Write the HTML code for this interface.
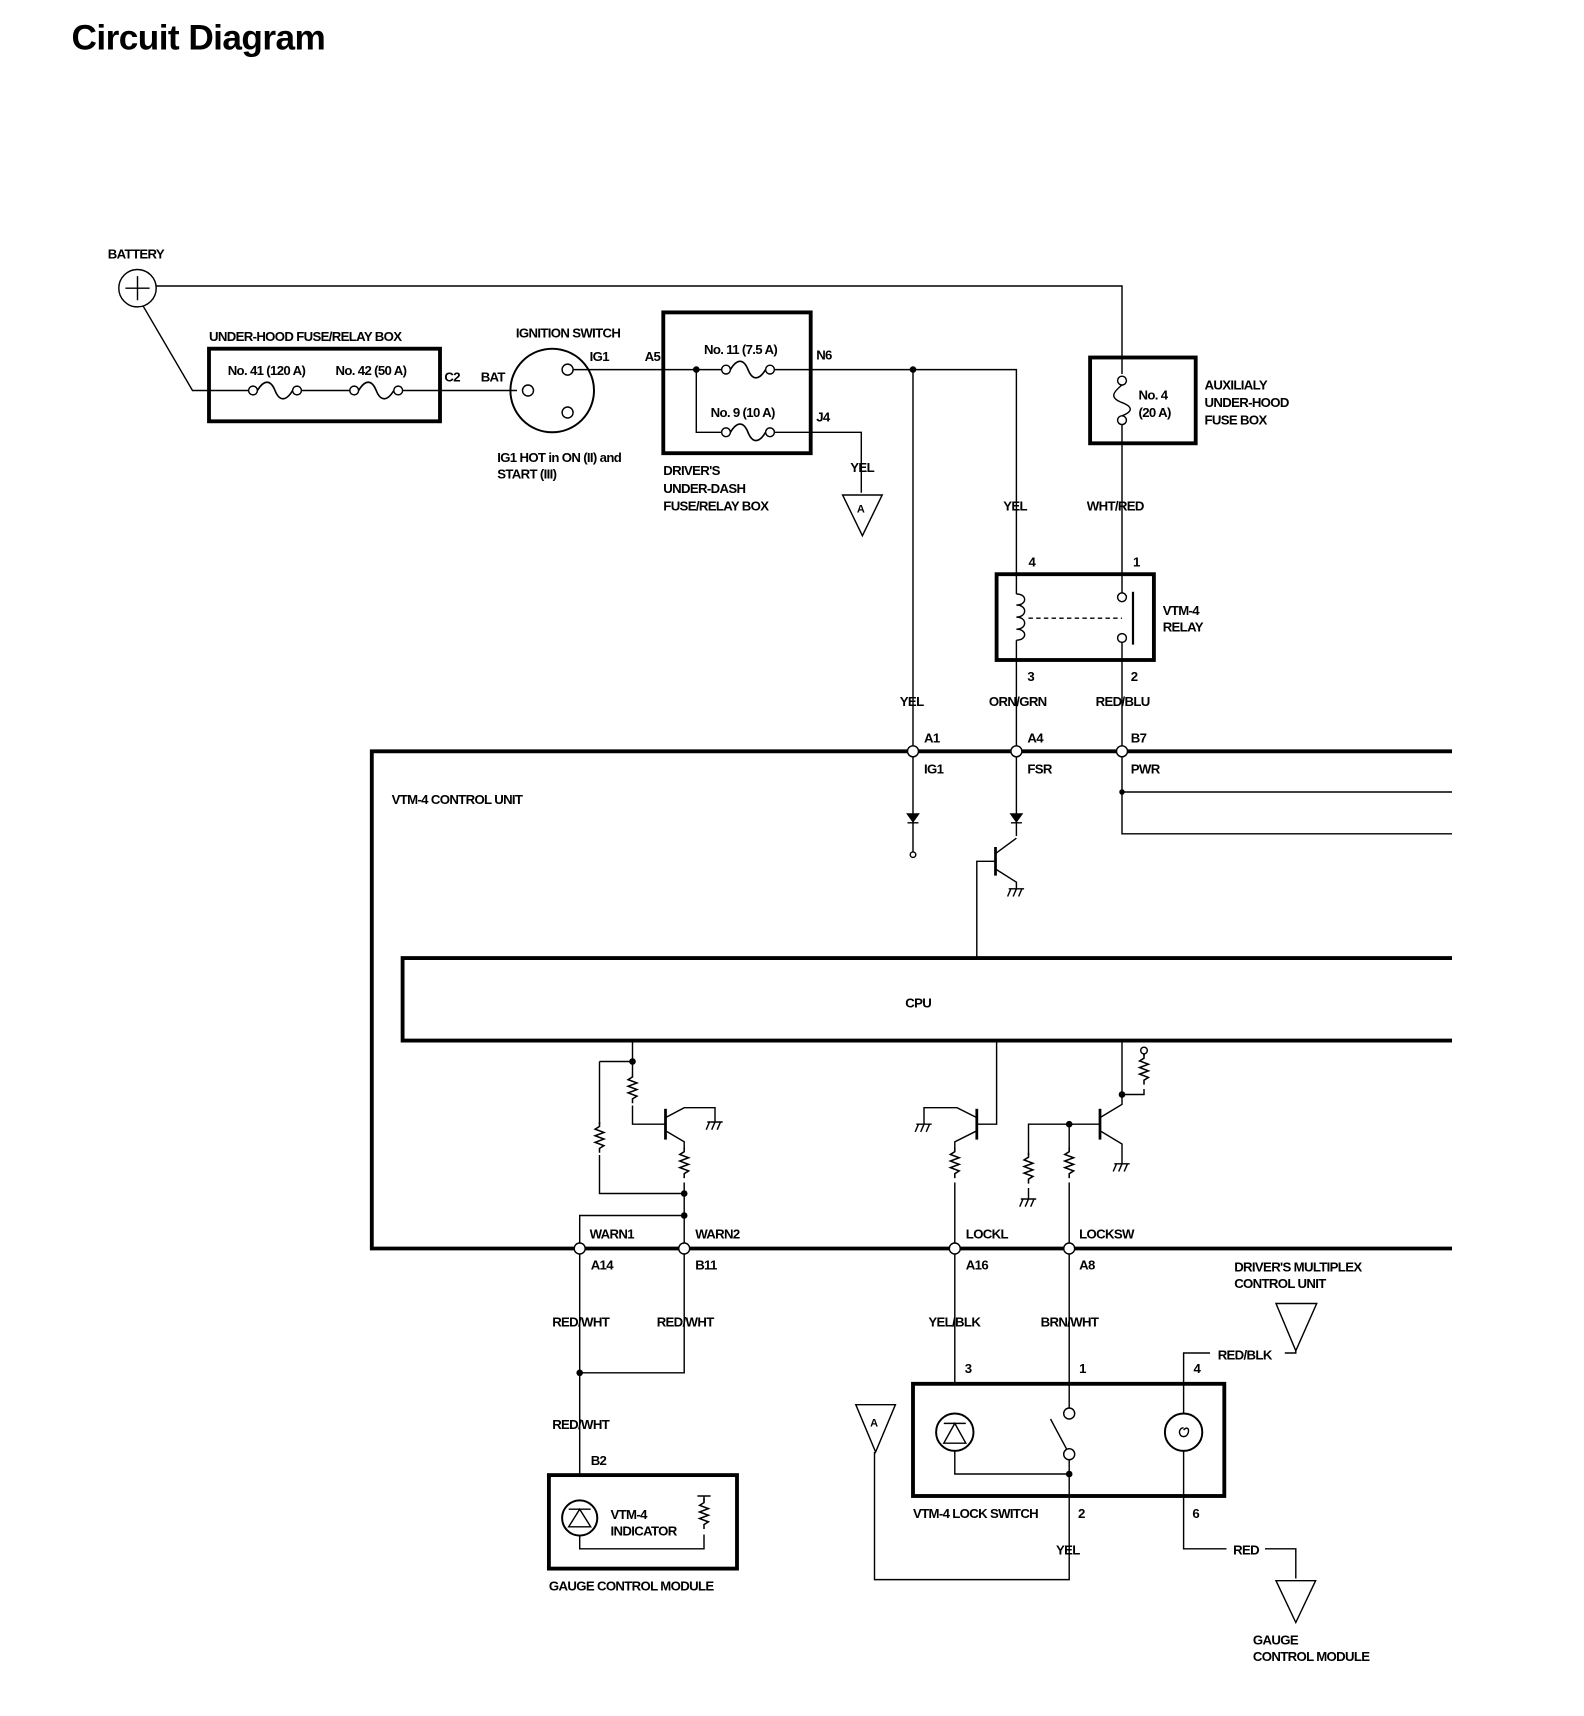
<!DOCTYPE html>
<html><head><meta charset="utf-8"><style>
html,body{margin:0;padding:0;background:#fff;}
svg{display:block}
text{font-family:"Liberation Sans",sans-serif;font-weight:bold;font-size:12px;fill:#000;letter-spacing:-0.6px}
</style></head><body>
<svg width="1584" height="1716" viewBox="0 0 1440 1560" xmlns="http://www.w3.org/2000/svg">
<defs>
<g id="fh"><circle cx="0" cy="0" r="4" fill="#fff" stroke="#000" stroke-width="1.3"/><path d="M4,0 C10,-10 16,-10 20,0 C24,10 30,10 36,0" fill="none" stroke="#000" stroke-width="1.5"/><circle cx="40" cy="0" r="4" fill="#fff" stroke="#000" stroke-width="1.3"/></g>
<g id="res"><path d="M0,0 l0,4 l-4,2.5 l8,3 l-8,3 l8,3 l-8,3 l8,3 l-4,2.5 l0,4" fill="none" stroke="#000" stroke-width="1.4"/></g>
<g id="gnd"><path d="M-7,0 h14 M-5,0 l-3,7 M0,0 l-3,7 M5,0 l-3,7" stroke="#000" stroke-width="1.3" fill="none"/></g>
</defs>
<text x="65" y="45" style="font-size:32px;letter-spacing:-0.5px">Circuit Diagram</text>
<g fill="none" stroke="#000" stroke-width="1.3">
<circle cx="125" cy="262" r="17"/><path d="M114,262h22M125,251v22"/>
<path d="M142,260H1020V340"/>
<path d="M130,278L175,355H226"/>
<rect x="190" y="317" width="210" height="66" stroke-width="3.5"/>
<path d="M272,355H318M366,355H470"/>
<circle cx="502" cy="355" r="38" stroke-width="1.8"/>
<circle cx="480" cy="355" r="5" fill="#fff"/><circle cx="516" cy="336" r="5" fill="#fff"/><circle cx="516" cy="375" r="5" fill="#fff"/>
<path d="M521,336H656M704,336H924V522"/>
<rect x="603" y="284" width="134" height="128" stroke-width="3.5"/>
<path d="M633,336V393H656M704,393H783V448"/>
<path d="M766,450H802L784,487Z"/>
<path d="M830,336V683"/>
<rect x="991" y="325" width="96" height="78" stroke-width="3.5"/>
<path d="M1020,386V522"/>
<circle cx="1020" cy="346" r="4" fill="#fff"/><circle cx="1020" cy="382" r="4" fill="#fff"/>
<path d="M1020,350 C1010,358 1010,362 1020,366 C1030,370 1030,374 1020,378"/>
<rect x="906" y="522" width="143" height="78" stroke-width="3.5"/>
<path d="M924,522V540M924,582V600M1020,522V539M1020,584V600"/>
<path d="M924,540 c10,0 10,10 0,10 c10,0 10,11 0,11 c10,0 10,11 0,11 c10,0 10,10 0,10"/>
<circle cx="1020" cy="543" r="4" fill="#fff"/><circle cx="1020" cy="580" r="4" fill="#fff"/>
<path d="M1030,538V586" stroke-width="2"/>
<path d="M935,562H1020" stroke-dasharray="4,3"/>
<path d="M924,600V683M1020,600V683"/>
<path d="M1320,683H338V1135H1320" stroke-width="3.5"/>
<path d="M1020,683V758H1320M1020,720H1320"/>
<path d="M830,688V775M924,688V760"/>
<path d="M825,740h10l-5,7z" fill="#000"/><path d="M825,748h10M919,748h10"/>
<path d="M919,740h10l-5,7z" fill="#000"/>
<circle cx="830" cy="777" r="2.5" fill="#fff"/>
<path d="M905,770V796" stroke-width="2.5"/>
<path d="M905,776L924,762M905,790L924,802V808M905,783H888V871"/>
<path d="M1320,871H366V946H1320" stroke-width="3.5"/>
<path d="M575,947V975M575,1005V1022H605M545,965H575M545,965V1022M545,1050V1085H622"/>
<use href="#res" x="575" y="975"/><use href="#res" x="545" y="1020"/>
<path d="M605,1008V1036" stroke-width="2.5"/>
<path d="M605,1016L622,1007H650V1020M605,1028L622,1038V1045M622,1075V1135M527,1135V1105H622"/>
<use href="#res" x="622" y="1043"/>
<path d="M888,1008V1036" stroke-width="2.5"/>
<path d="M888,1016L870,1007H840V1022M888,1028L868,1038V1045M868,1075V1135M888,1022H906V947"/>
<use href="#res" x="868" y="1043"/>
<path d="M1000,1008V1036" stroke-width="2.5"/>
<path d="M1000,1022H935V1050M935,1080V1090M972,1022V1045M972,1075V1135M1000,1016L1020,1004V995H1040V990M1040,960V955M1020,995V947M1000,1028L1020,1040V1058"/>
<use href="#res" x="935" y="1048"/><use href="#res" x="972" y="1043"/><use href="#res" x="1040" y="958"/>
<circle cx="1040" cy="955" r="3" fill="#fff"/>
<path d="M527,1140V1341M622,1140V1248H527"/>
<rect x="499" y="1341" width="171" height="85" stroke-width="3.5"/>
<circle cx="527" cy="1380" r="16" stroke-width="1.8"/>
<path d="M517,1388h20l-10,-16z M517,1372h20"/>
<path d="M527,1396V1408H640V1395M640,1360V1365M634,1360h12"/>
<use href="#res" x="640" y="1362"/>
<path d="M868,1140V1258M972,1140V1280"/>
<rect x="830" y="1258" width="283" height="102" stroke-width="3.5"/>
<circle cx="868" cy="1302" r="17" stroke-width="1.8"/>
<path d="M858,1312h20l-10,-18z M858,1294h20"/>
<path d="M868,1319V1340H972"/>
<circle cx="972" cy="1285" r="5" fill="#fff"/><circle cx="972" cy="1322" r="5" fill="#fff"/>
<path d="M955,1290L970,1318M972,1327V1436H795V1320"/>
<path d="M778,1277H814L796,1320Z"/>
<circle cx="1076" cy="1302" r="17" stroke-width="1.8"/>
<path d="M1076,1300 c6,-6 6,6 0,6 c-5,0 -5,-8 0,-8"/>
<path d="M1076,1285V1230H1100M1168,1230H1178V1228M1076,1319V1408H1115M1150,1408H1178V1435"/>
<path d="M1160,1185H1197L1178,1228Z"/>
<path d="M1160,1437H1196L1178,1475Z"/>
</g>
<use href="#gnd" x="924" y="808"/><use href="#gnd" x="650" y="1020"/><use href="#gnd" x="840" y="1022"/><use href="#gnd" x="935" y="1090"/><use href="#gnd" x="1020" y="1058"/>
<use href="#fh" x="230" y="355"/><use href="#fh" x="322" y="355"/>
<use href="#fh" x="660" y="336"/><use href="#fh" x="660" y="393"/>
<g fill="#000"><circle cx="633" cy="336" r="3"/><circle cx="830" cy="336" r="3"/><circle cx="1020" cy="720" r="2.5"/>
<circle cx="575" cy="965" r="3"/><circle cx="622" cy="1085" r="3"/><circle cx="622" cy="1105" r="3"/><circle cx="972" cy="1022" r="3"/><circle cx="1020" cy="995" r="3"/><circle cx="527" cy="1248" r="3"/><circle cx="972" cy="1340" r="3"/></g>
<g fill="#fff" stroke="#000" stroke-width="1.3">
<circle cx="830" cy="683" r="5"/><circle cx="924" cy="683" r="5"/><circle cx="1020" cy="683" r="5"/>
<circle cx="527" cy="1135" r="5"/><circle cx="622" cy="1135" r="5"/><circle cx="868" cy="1135" r="5"/><circle cx="972" cy="1135" r="5"/>
</g>
<text x="98" y="235">BATTERY</text>
<text x="190" y="310">UNDER-HOOD FUSE/RELAY BOX</text>
<text x="207" y="341">No. 41 (120 A)</text><text x="305" y="341">No. 42 (50 A)</text>
<text x="404" y="347">C2</text><text x="437" y="347">BAT</text>
<text x="469" y="307">IGNITION SWITCH</text><text x="536" y="328">IG1</text><text x="586" y="328">A5</text>
<text x="452" y="420">IG1 HOT in ON (II) and</text><text x="452" y="435">START (III)</text>
<text x="640" y="322">No. 11 (7.5 A)</text><text x="646" y="379">No. 9 (10 A)</text>
<text x="742" y="327">N6</text><text x="742" y="383">J4</text><text x="773" y="429">YEL</text>
<text x="779" y="466" style="font-size:10px">A</text><text x="791" y="1297" style="font-size:10px">A</text>
<text x="603" y="432">DRIVER'S</text><text x="603" y="448">UNDER-DASH</text><text x="603" y="464">FUSE/RELAY BOX</text>
<text x="1035" y="363">No. 4</text><text x="1035" y="379">(20 A)</text>
<text x="1095" y="354">AUXILIALY</text><text x="1095" y="370">UNDER-HOOD</text><text x="1095" y="386">FUSE BOX</text>
<text x="912" y="464">YEL</text><text x="988" y="464">WHT/RED</text>
<text x="935" y="515">4</text><text x="1030" y="515">1</text>
<text x="1057" y="559">VTM-4</text><text x="1057" y="574">RELAY</text>
<text x="934" y="619">3</text><text x="1028" y="619">2</text>
<text x="818" y="642">YEL</text><text x="899" y="642">ORN/GRN</text><text x="996" y="642">RED/BLU</text>
<text x="840" y="675">A1</text><text x="934" y="675">A4</text><text x="1028" y="675">B7</text>
<text x="840" y="703">IG1</text><text x="934" y="703">FSR</text><text x="1028" y="703">PWR</text>
<text x="356" y="731">VTM-4 CONTROL UNIT</text>
<text x="823" y="916">CPU</text>
<text x="536" y="1126">WARN1</text><text x="632" y="1126">WARN2</text><text x="878" y="1126">LOCKL</text><text x="981" y="1126">LOCKSW</text>
<text x="537" y="1154">A14</text><text x="632" y="1154">B11</text><text x="878" y="1154">A16</text><text x="981" y="1154">A8</text>
<text x="1122" y="1156">DRIVER'S MULTIPLEX</text><text x="1122" y="1171">CONTROL UNIT</text>
<text x="502" y="1206">RED/WHT</text><text x="597" y="1206">RED/WHT</text><text x="844" y="1206">YEL/BLK</text><text x="946" y="1206">BRN/WHT</text>
<text x="1107" y="1236">RED/BLK</text>
<text x="877" y="1248">3</text><text x="981" y="1248">1</text><text x="1085" y="1248">4</text>
<text x="502" y="1299">RED/WHT</text><text x="537" y="1332">B2</text>
<text x="555" y="1381">VTM-4</text><text x="555" y="1396">INDICATOR</text>
<text x="499" y="1446">GAUGE CONTROL MODULE</text>
<text x="830" y="1380">VTM-4 LOCK SWITCH</text><text x="980" y="1380">2</text><text x="1084" y="1380">6</text>
<text x="960" y="1413">YEL</text><text x="1121" y="1413">RED</text>
<text x="1139" y="1495">GAUGE</text><text x="1139" y="1510">CONTROL MODULE</text>
</svg>
</body></html>
